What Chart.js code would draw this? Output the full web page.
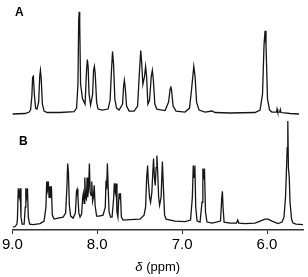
<!DOCTYPE html>
<html lang="en">
<head>
    <meta charset="UTF-8">
    <title>1H NMR spectra A and B</title>
    <style>
        body {
            margin: 0;
            padding: 0;
            background: #ffffff;
        }
        canvas {
            display: block;
        }
    </style>
    <script src="https://cdn.jsdelivr.net/npm/chart.js"></script>
</head>
<body>
    <canvas id="nmrChart" width="308" height="277"></canvas>

    <script>
        // Spectrum A: chemical shift (ppm) and intensity
        const ppmA = [9.000, 8.850, 8.803, 8.786, 8.771, 8.762, 8.753, 8.742, 8.727, 8.711,
            8.691, 8.678, 8.670, 8.661, 8.647, 8.627, 8.591, 8.438, 8.273, 8.244,
            8.228, 8.219, 8.213, 8.207, 8.197, 8.173, 8.144, 8.126, 8.117, 8.108,
            8.097, 8.079, 8.055, 8.044, 8.034, 8.024, 8.008, 7.991, 7.943, 7.873,
            7.849, 7.832, 7.820, 7.808, 7.793, 7.773, 7.743, 7.702, 7.690, 7.681,
            7.670, 7.655, 7.625, 7.566, 7.525, 7.505, 7.488, 7.477, 7.463, 7.443,
            7.431, 7.419, 7.404, 7.384, 7.364, 7.351, 7.339, 7.322, 7.299, 7.201,
            7.160, 7.142, 7.134, 7.125, 7.107, 7.072, 6.966, 6.913, 6.889, 6.863,
            6.848, 6.830, 6.801, 6.730, 6.648, 6.612, 6.436, 6.141, 6.082, 6.053,
            6.035, 6.023, 6.012, 5.994, 5.970, 5.941, 5.888, 5.882, 5.874, 5.850,
            5.843, 5.835, 5.729, 5.623];
        const intA = [0, 0.5, 2, 4, 18, 37, 38, 20, 6, 5,
            12, 38, 44, 36, 10, 3, 1.5, 1.5, 2.5, 6,
            30, 95, 103, 90, 30, 15, 10, 45, 55, 48,
            20, 9, 20, 44, 48, 40, 12, 5, 4, 5,
            14, 45, 63, 50, 15, 6, 4, 10, 28, 34,
            26, 8, 3, 3, 8, 40, 64, 52, 30, 38,
            48, 38, 10, 14, 38, 44, 34, 10, 5, 3.5,
            12, 25, 28, 24, 8, 3, 2, 6, 25, 48,
            38, 12, 4, 2, 3, 1.5, 1, 1.5, 4, 20,
            70, 84, 70, 15, 4, 2, 2, 5, 2, 2,
            4.5, 1.5, 0.5, 0];

        // Spectrum B
        const ppmB = [8.995, 8.968, 8.947, 8.941, 8.931, 8.920, 8.909, 8.899, 8.886, 8.862,
            8.849, 8.842, 8.833, 8.823, 8.813, 8.797, 8.756, 8.674, 8.627, 8.605,
            8.596, 8.587, 8.577, 8.568, 8.558, 8.549, 8.541, 8.530, 8.509, 8.462,
            8.403, 8.373, 8.358, 8.349, 8.340, 8.329, 8.314, 8.285, 8.258, 8.245,
            8.237, 8.228, 8.217, 8.203, 8.185, 8.172, 8.164, 8.155, 8.147, 8.139,
            8.128, 8.120, 8.112, 8.102, 8.093, 8.084, 8.073, 8.065, 8.055, 8.046,
            8.036, 8.026, 8.008, 7.979, 7.932, 7.906, 7.897, 7.890, 7.881, 7.872,
            7.861, 7.843, 7.826, 7.808, 7.799, 7.789, 7.779, 7.768, 7.757, 7.749,
            7.742, 7.735, 7.727, 7.716, 7.696, 7.614, 7.496, 7.449, 7.431, 7.418,
            7.407, 7.398, 7.384, 7.372, 7.357, 7.346, 7.337, 7.327, 7.317, 7.307,
            7.298, 7.288, 7.277, 7.266, 7.248, 7.233, 7.221, 7.207, 7.190, 7.084,
            6.966, 6.901, 6.880, 6.869, 6.860, 6.850, 6.840, 6.824, 6.789, 6.766,
            6.756, 6.747, 6.737, 6.725, 6.707, 6.648, 6.548, 6.533, 6.526, 6.518,
            6.506, 6.436, 6.359, 6.345, 6.332, 6.259, 6.141, 6.082, 6.023, 5.988,
            5.941, 5.870, 5.823, 5.800, 5.782, 5.773, 5.762, 5.755, 5.748, 5.738,
            5.729, 5.711, 5.694, 5.658, 5.576];
        const intB = [0, 0.5, 3, 8, 39, 31, 39, 10, 3, 3,
            20, 39, 31, 39, 10, 3, 2.5, 3.5, 6, 20,
            46, 38, 46, 30, 41, 34, 41, 12, 8, 9,
            10, 14, 40, 64, 55, 22, 11, 9, 14, 36,
            38, 30, 14, 10, 13, 30, 34, 24, 50, 30,
            28, 50, 30, 40, 64, 35, 32, 46, 26, 30,
            42, 22, 11, 11, 12, 20, 47, 38, 64, 40,
            15, 10, 10, 28, 44, 36, 44, 15, 10, 25,
            34, 28, 34, 10, 7, 7.5, 8, 12, 20, 50,
            62, 45, 30, 25, 35, 55, 69, 50, 42, 60,
            72, 55, 30, 22, 30, 66, 40, 12, 8, 6,
            5.5, 7, 30, 62, 50, 62, 20, 6, 5, 25,
            59, 48, 59, 15, 5, 4, 6, 30, 36, 20,
            5, 4, 4, 7, 4, 3.5, 4, 6, 8, 8,
            6, 3.5, 5, 10, 30, 52, 80, 107, 60, 50,
            25, 8, 4, 3, 2.5];

        const tickValues = [9.0, 8.0, 7.0, 6.0];

        // vertical stacking of the two traces (A above B)
        const offsetA = 117;
        const offsetB = 3;

        function toPoints(xs, ys, offset) {
            return xs.map((x, i) => ({ x: x, y: ys[i] + offset }));
        }

        // panel letters and the axis title (italic delta)
        const textPlugin = {
            id: 'nmrText',
            afterDraw(chart) {
                const ctx = chart.ctx;
                ctx.save();
                ctx.fillStyle = '#000';
                ctx.textBaseline = 'alphabetic';
                ctx.font = 'bold 12px "Liberation Sans", Arial, sans-serif';
                ctx.fillText('A', 15, 16);
                ctx.fillText('B', 19, 145);

                const midX = (chart.chartArea.left + chart.chartArea.right) / 2;
                ctx.font = 'italic 13px "Liberation Sans", Arial, sans-serif';
                const d = 'δ';
                const dW = ctx.measureText(d + ' ').width;
                ctx.font = '13px "Liberation Sans", Arial, sans-serif';
                const rest = '(ppm)';
                const rW = ctx.measureText(rest).width;
                const startX = midX - (dW + rW) / 2;
                ctx.font = 'italic 13px "Liberation Sans", Arial, sans-serif';
                ctx.fillText(d, startX, 271);
                ctx.font = '13px "Liberation Sans", Arial, sans-serif';
                ctx.fillText(rest, startX + dW, 271);
                ctx.restore();
            }
        };

        const ctx = document.getElementById('nmrChart').getContext('2d');

        new Chart(ctx, {
            type: 'line',
            data: {
                datasets: [{
                    label: 'A',
                    data: toPoints(ppmA, intA, offsetA),
                    borderColor: '#151515',
                    borderWidth: 1.3,
                    pointRadius: 0,
                    tension: 0,
                    fill: false
                }, {
                    label: 'B',
                    data: toPoints(ppmB, intB, offsetB),
                    borderColor: '#151515',
                    borderWidth: 1.3,
                    pointRadius: 0,
                    tension: 0,
                    fill: false
                }]
            },
            options: {
                responsive: false,
                animation: false,
                devicePixelRatio: 1,
                layout: {
                    padding: { left: 12, right: 5, top: 0, bottom: 21 }
                },
                plugins: {
                    legend: { display: false },
                    tooltip: { enabled: false }
                },
                scales: {
                    x: {
                        type: 'linear',
                        reverse: true,
                        min: 5.576,
                        max: 9.0,
                        afterBuildTicks: scale => {
                            scale.ticks = tickValues.map(v => ({ value: v }));
                        },
                        ticks: {
                            color: '#000',
                            padding: 2,
                            maxRotation: 0,
                            autoSkip: false,
                            font: { family: '"Liberation Sans", Arial, sans-serif', size: 15 },
                            callback: v => v.toFixed(1)
                        },
                        grid: {
                            display: true,
                            drawOnChartArea: false,
                            drawTicks: true,
                            tickLength: 4,
                            color: '#333'
                        },
                        border: { display: true, color: '#333', width: 1.5 }
                    },
                    y: {
                        display: false,
                        min: 0,
                        max: 232
                    }
                }
            },
            plugins: [textPlugin]
        });
    </script>
</body>
</html>
